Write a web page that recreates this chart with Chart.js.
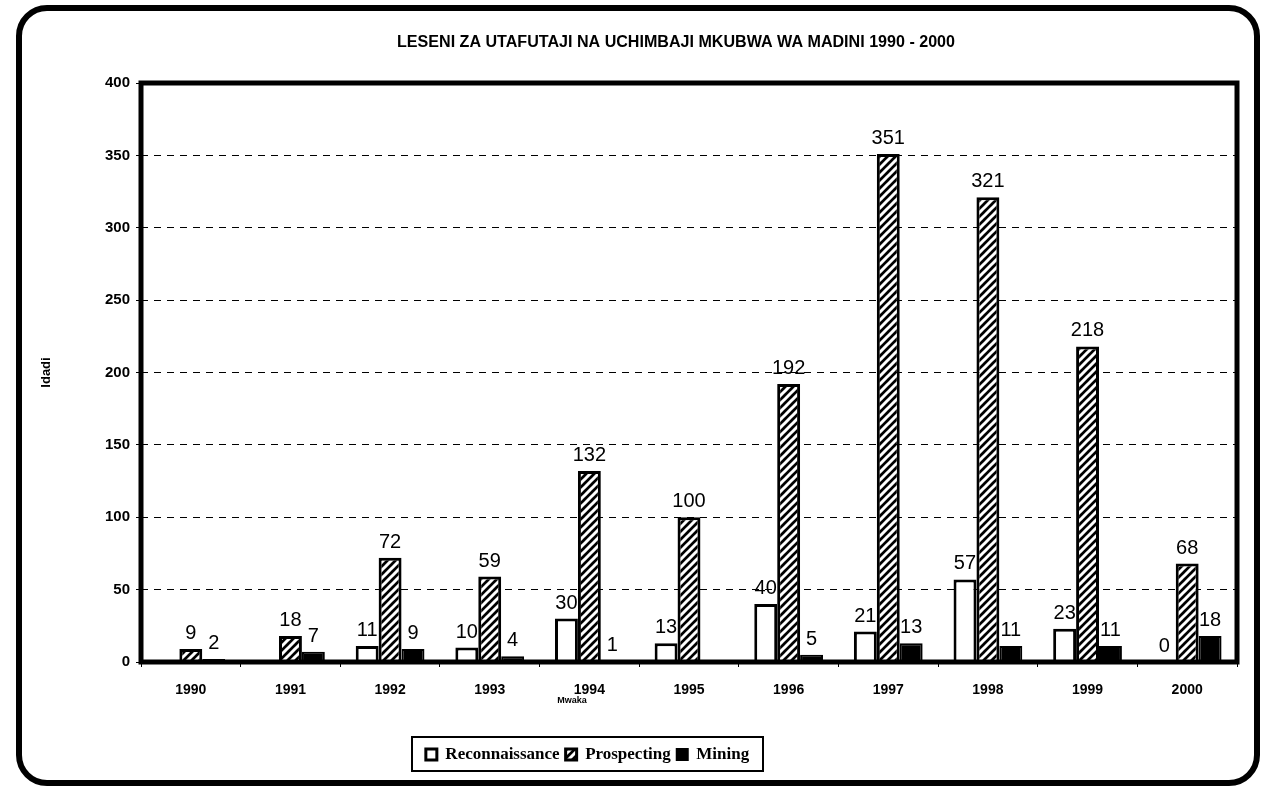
<!DOCTYPE html>
<html>
<head>
<meta charset="utf-8">
<title>Leseni za utafutaji na uchimbaji mkubwa wa madini 1990 - 2000</title>
<script src="https://cdn.jsdelivr.net/npm/chart.js@4/dist/chart.umd.min.js"></script>
<style>
  html, body { margin: 0; padding: 0; background: #fff; }
  #chart { display: block; }
</style>
</head>
<body>
<canvas id="chart" width="1263" height="797"></canvas>
<script>
const years = ["1990", "1991", "1992", "1993", "1994", "1995", "1996", "1997", "1998", "1999", "2000"];
const reconnaissance = [null, null, 11, 10, 30, 13, 40, 21, 57, 23, 0];
const prospecting = [9, 18, 72, 59, 132, 100, 192, 351, 321, 218, 68];
const mining = [2, 7, 9, 4, 1, null, 5, 13, 11, 11, 18];
const yTicks = [0, 50, 100, 150, 200, 250, 300, 350, 400];

const titleText = "LESENI ZA UTAFUTAJI NA UCHIMBAJI MKUBWA WA MADINI 1990 - 2000";
const xTitleText = "Mwaka";
const yTitleText = "Idadi";

const canvas = document.getElementById("chart");
const ctx = canvas.getContext("2d");

// black bars with white diagonal stripes
const makeHatch = () => {
  const c = document.createElement("canvas");
  c.width = 8;
  c.height = 8;
  const g = c.getContext("2d");
  g.fillStyle = "#000";
  g.fillRect(0, 0, 8, 8);
  g.strokeStyle = "#fff";
  g.lineWidth = 3;
  g.beginPath();
  g.moveTo(-2, 10); g.lineTo(10, -2);
  g.moveTo(-6, 6); g.lineTo(6, -6);
  g.moveTo(2, 14); g.lineTo(14, 2);
  g.stroke();
  return ctx.createPattern(c, "repeat");
};
const hatch = makeHatch();

Chart.defaults.font.family = "'Liberation Sans', Arial, sans-serif";
Chart.defaults.color = "#000";

const framePlugin = {
  id: "frame",
  beforeDraw(chart) {
    const c = chart.ctx;
    const x0 = 19, y0 = 8, x1 = 1257, y1 = 783, r = 28;
    c.save();
    c.fillStyle = "#fff";
    c.fillRect(0, 0, chart.width, chart.height);
    c.beginPath();
    c.moveTo(x0 + r, y0);
    c.lineTo(x1 - r, y0);
    c.arcTo(x1, y0, x1, y0 + r, r);
    c.lineTo(x1, y1 - r);
    c.arcTo(x1, y1, x1 - r, y1, r);
    c.lineTo(x0 + r, y1);
    c.arcTo(x0, y1, x0, y1 - r, r);
    c.lineTo(x0, y0 + r);
    c.arcTo(x0, y0, x0 + r, y0, r);
    c.closePath();
    c.lineWidth = 6;
    c.strokeStyle = "#000";
    c.stroke();

    // title, squeezed to the narrow look of the original
    c.font = "bold 16px 'Liberation Sans', Arial, sans-serif";
    c.fillStyle = "#000";
    c.textAlign = "center";
    c.textBaseline = "middle";
    const w = c.measureText(titleText).width;
    const sx = 558 / w;
    c.translate(676, 43);
    c.scale(sx, 1);
    c.fillText(titleText, 0, 0);
    c.restore();
  },
  afterLayout(chart) {
    const lg = chart.legend;
    lg.left = 412;
    lg.right = 763;
    lg.width = 351;
    lg.top = 740;
    lg.bottom = lg.top + lg.height;
  },
  afterDatasetsDraw(chart) {
    const c = chart.ctx;
    const a = chart.chartArea;
    c.save();
    c.lineWidth = 5;
    c.strokeStyle = "#000";
    c.strokeRect(a.left, a.top, a.right - a.left, a.bottom - a.top);

    // value labels
    c.font = "20px 'Liberation Sans', Arial, sans-serif";
    c.fillStyle = "#000";
    c.textAlign = "center";
    c.textBaseline = "alphabetic";
    chart.data.datasets.forEach((ds, i) => {
      chart.getDatasetMeta(i).data.forEach((el, j) => {
        const v = ds.data[j];
        if (v === null || v === undefined) return;
        c.fillText(String(v), el.x, el.y - 10);
      });
    });

    // x axis title
    c.font = "bold 9px 'Liberation Sans', Arial, sans-serif";
    c.textBaseline = "middle";
    c.fillText(xTitleText, 572, 701);
    c.restore();
  },
  afterDraw(chart) {
    const c = chart.ctx;
    c.save();
    c.lineWidth = 2;
    c.strokeStyle = "#000";
    c.strokeRect(412, 737, 351, 34);
    c.restore();
  }
};

new Chart(ctx, {
  type: "bar",
  data: {
    labels: years,
    datasets: [
      {
        label: "Reconnaissance",
        data: reconnaissance,
        backgroundColor: "#fff",
        borderColor: "#000",
        borderWidth: 3,
      },
      {
        label: "Prospecting",
        data: prospecting,
        backgroundColor: hatch,
        borderColor: "#000",
        borderWidth: 3,
      },
      {
        label: "Mining",
        data: mining,
        backgroundColor: "#000",
        borderColor: "#000",
        borderWidth: 2,
      },
    ],
  },
  options: {
    responsive: false,
    animation: false,
    categoryPercentage: 0.69,
    barPercentage: 1.0,
    layout: {
      padding: { top: 83, left: 35, right: 26, bottom: 57 },
    },
    scales: {
      x: {
        offset: true,
        grid: {
          display: true,
          drawOnChartArea: false,
          drawTicks: true,
          tickLength: 5,
          color: "#000",
          lineWidth: 1,
        },
        border: { display: false },
        ticks: {
          font: { size: 14, weight: "bold" },
          color: "#000",
          padding: 15,
          maxRotation: 0,
        },
        afterFit: (s) => { s.height = 45; },
      },
      y: {
        min: 0,
        max: 400,
        afterBuildTicks: (s) => { s.ticks = yTicks.map((v) => ({ value: v })); },
        grid: {
          color: "#000",
          lineWidth: 1,
          tickLength: 5,
          tickColor: "#000",
          tickBorderDash: [],
        },
        border: { display: false, dash: [7, 6] },
        ticks: {
          font: { size: 15, weight: "bold" },
          color: "#000",
          padding: 6,
        },
        title: {
          display: true,
          text: yTitleText,
          font: { size: 13, weight: "bold" },
          color: "#000",
          padding: 4,
        },
        afterFit: (s) => { s.width = 106; },
      },
    },
    plugins: {
      legend: {
        position: "bottom",
        labels: {
          boxWidth: 11,
          boxHeight: 11,
          padding: 6,
          color: "#000",
          font: { family: "'Liberation Serif', 'Times New Roman', serif", size: 17, weight: "bold" },
        },
      },
      tooltip: { enabled: false },
      title: { display: false },
    },
  },
  plugins: [framePlugin],
});
</script>
</body>
</html>
